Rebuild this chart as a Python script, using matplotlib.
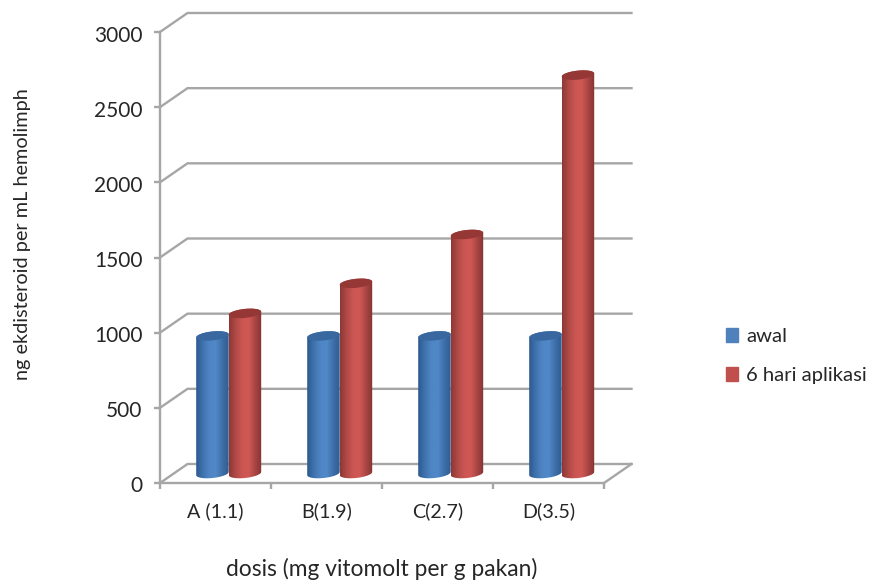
import numpy as np
import matplotlib
matplotlib.use('Agg')
from matplotlib import pyplot as plt
from matplotlib.colors import LinearSegmentedColormap
from matplotlib.patches import Patch, Polygon
from matplotlib.transforms import ScaledTranslation

categories = ['A (1.1)', 'B(1.9)', 'C(2.7)', 'D(3.5)']
awal = [915, 915, 915, 915]
aplikasi = [1065, 1265, 1590, 2650]
yticks = [0, 500, 1000, 1500, 2000, 2500, 3000]
series_names = ['awal', '6 hari aplikasi']

W, H = 870, 583
GRID = '#a6a6a6'
TEXT = '#262626'

plt.rcParams['font.family'] = ['Lato', 'DejaVu Sans']

fig = plt.figure(figsize=(W / 100, H / 100), dpi=100)
# front plane of the 3d box
ax = fig.add_axes([160 / W, 1 - 483 / H, 444 / W, 451 / H])

# depth of the box, in data units
depth_x = 27.5 / 111
depth_y = 19 / (451 / 3000)
bar_w = 32.5 / 111
cap_h = 4.5 / (451 / 3000)
cap_tilt = 1.6 / (451 / 3000)

blue_map = LinearSegmentedColormap.from_list('blue', ['#2d5a8f', '#3f72ad', '#4f85c4', '#5088c8', '#3f70a9', '#2f5c91'])
red_map = LinearSegmentedColormap.from_list('red', ['#8e3836', '#b04a47', '#cc5652', '#cf5855', '#a94644', '#843331'])


def cylinder(x0, value, cmap, cap, zorder):
    # x0 is the left edge of the bar on the middle plane of the box
    xc = x0 + bar_w / 2 + depth_x / 2
    base = depth_y / 2
    top = value + depth_y / 2
    t1 = np.linspace(np.pi, 2 * np.pi, 40)
    t2 = np.linspace(0, np.pi, 40)
    xs = np.concatenate([xc + bar_w / 2 * np.cos(t1), xc + bar_w / 2 * np.cos(t2)])
    ys = np.concatenate([base + cap_h * np.sin(t1) + cap_tilt * np.cos(t1),
                         top + cap_h * np.sin(t2) + cap_tilt * np.cos(t2)])
    body = Polygon(np.column_stack([xs, ys]), closed=True, transform=ax.transData, fc='none', ec='none')
    ax.add_patch(body)
    grad = np.linspace(0, 1, 64).reshape(1, -1)
    im = ax.imshow(grad, cmap=cmap, aspect='auto', zorder=zorder, interpolation='bilinear',
                   extent=[xc - bar_w / 2, xc + bar_w / 2, base - cap_h * 2, top + cap_h * 2])
    im.set_clip_path(body)
    t = np.linspace(0, 2 * np.pi, 80)
    ax.fill(xc + bar_w / 2 * np.cos(t), top + cap_h * np.sin(t) + cap_tilt * np.cos(t),
            color=cap, lw=0, zorder=zorder + 0.1, clip_on=False)


# back wall gridlines, the diagonals on the side wall and floor
for v in yticks:
    ax.plot([0, depth_x, 4 + depth_x], [v, v + depth_y, v + depth_y], color=GRID, lw=1.7,
            clip_on=False, zorder=1, solid_joinstyle='miter')
ax.plot([4, 4 + depth_x], [0, depth_y], color=GRID, lw=1.7, clip_on=False, zorder=1)

for i in range(len(categories)):
    cylinder(i + 0.5 - bar_w - 0.005, awal[i], blue_map, '#38689f', 3)
    cylinder(i + 0.5 - 0.005, aplikasi[i], red_map, '#943735', 4)

ax.set_xlim(0, 4)
ax.set_ylim(0, 3000)
ax.patch.set_visible(False)
for s in ['top', 'right']:
    ax.spines[s].set_visible(False)
for s in ['left', 'bottom']:
    ax.spines[s].set_color(GRID)
    ax.spines[s].set_linewidth(1.7)

ax.set_yticks(yticks)
ax.set_xticks(range(5))
ax.set_xticklabels([])
ax.set_xticks(np.arange(4) + 0.5, categories, minor=True)
ax.tick_params(axis='both', which='major', color=GRID, width=1.7, length=4.5, labelcolor=TEXT)
ax.tick_params(axis='y', labelsize=15, pad=8)
ax.tick_params(axis='x', which='minor', length=0, labelsize=14.2, labelcolor=TEXT, pad=14)

# nudge the value labels down a little
shift = ScaledTranslation(0, -1.5 / 100, fig.dpi_scale_trans)
for lab in ax.get_yticklabels():
    lab.set_transform(lab.get_transform() + shift)

fig.text(23 / W, 1 - 234 / H, 'ng ekdisteroid per mL hemolimph', rotation=90, ha='center', va='center',
         fontsize=14.3, color=TEXT)
fig.text(382 / W, 1 - 569 / H, 'dosis (mg vitomolt per g pakan)', ha='center', va='center',
         fontsize=16.4, color=TEXT)

handles = [Patch(color='#4f81bd'), Patch(color='#c0504d')]
fig.legend(handles, series_names, loc='center left', bbox_to_anchor=(726 / W, 1 - 356 / H), frameon=False,
           fontsize=14.6, labelcolor=TEXT, handlelength=0.6, handleheight=0.7, handletextpad=0.4,
           labelspacing=1.05, borderpad=0, borderaxespad=0)

fig.savefig('out.png', dpi=100)
